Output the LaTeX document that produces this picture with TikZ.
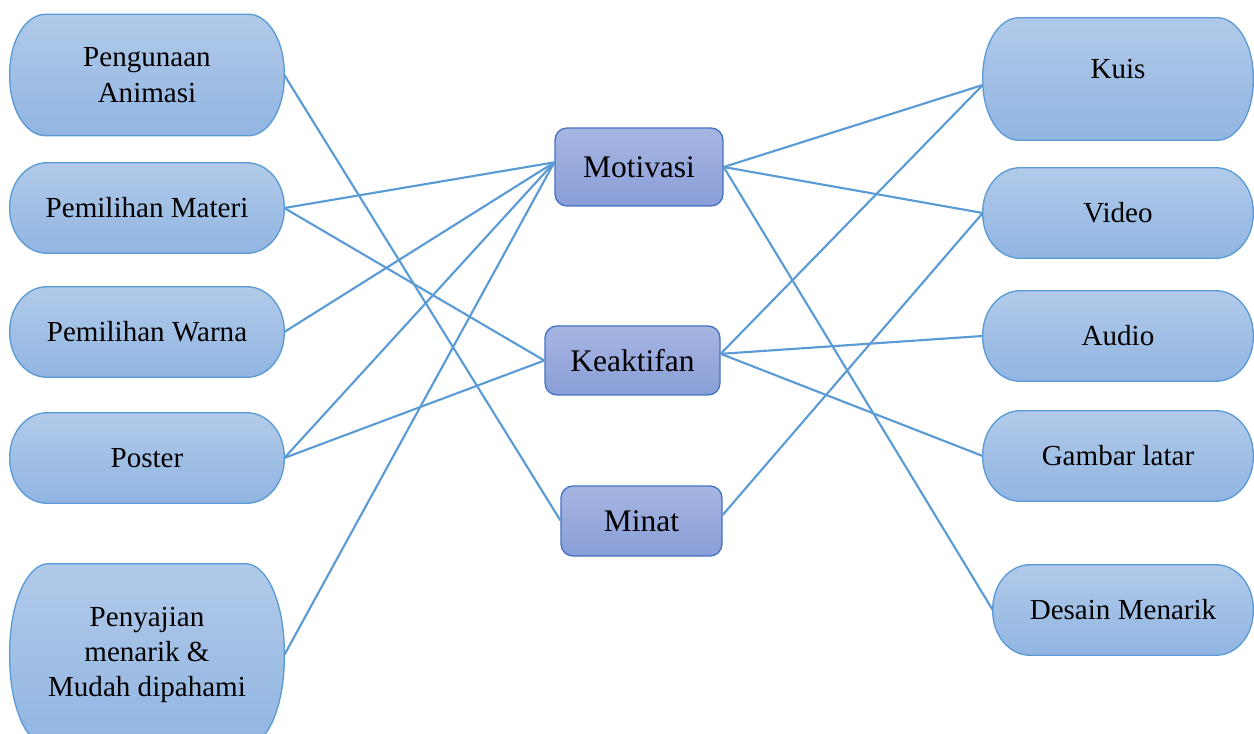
\documentclass[tikz,border=0pt]{standalone}
\usepackage{fontspec}
\setmainfont{Liberation Serif}
\usetikzlibrary{backgrounds}
\definecolor{lt}{HTML}{B1CAE9}
\definecolor{lb}{HTML}{91B5E2}
\definecolor{lbd}{HTML}{5B9BD5}
\definecolor{mt}{HTML}{A7B5E1}
\definecolor{mb}{HTML}{899ED8}
\definecolor{mbd}{HTML}{4472C4}
\definecolor{ln}{HTML}{5B9BD5}
% oval box behind a named node: name, x radius, y radius
\newcommand\ovalshape[3]{%
 \path[ovalfill] ([xshift=#2]#1.north west) -- ([xshift=-#2]#1.north east)
   arc[start angle=90,end angle=0,x radius=#2,y radius=#3]
   -- ([yshift=#3]#1.south east)
   arc[start angle=0,end angle=-90,x radius=#2,y radius=#3]
   -- ([xshift=#2]#1.south west)
   arc[start angle=270,end angle=180,x radius=#2,y radius=#3]
   -- ([yshift=-#3]#1.north west)
   arc[start angle=180,end angle=90,x radius=#2,y radius=#3] -- cycle;}
\begin{document}
\begin{tikzpicture}[x=0.75pt,y=-0.75pt,
 sbox/.style={align=center, font=\fontsize{21.8}{26.5}\selectfont, inner sep=0pt},
 ovalfill/.style={draw=lbd, line width=1pt, top color=lt, bottom color=lb},
 mbox/.style={draw=mbd, line width=1pt, top color=mt, bottom color=mb, rounded corners=9pt, font=\fontsize{23.6}{28}\selectfont, inner sep=0pt},
 lbl/.style={font=\fontsize{21.8}{26.5}\selectfont, align=center},
 link/.style={draw=ln, line width=1.6pt}]
\useasboundingbox (0,0) rectangle (1254,734);
\clip (0,0) rectangle (1254,734);
% left column
\node[sbox, minimum width=205.5pt, minimum height=90.75pt] (anim) at (147,75) {Pengunaan\\Animasi};
\node[sbox, minimum width=205.5pt, minimum height=67.5pt] (mat) at (147,208) {Pemilihan Materi};
\node[sbox, minimum width=205.5pt, minimum height=67.5pt] (war) at (147,332) {Pemilihan Warna};
\node[sbox, minimum width=205.5pt, minimum height=67.5pt] (pos) at (147,458) {Poster};
\node[sbox, minimum width=205.5pt, minimum height=136.5pt] (pen) at (147,655) {Penyajian\\menarik \&\\Mudah dipahami};
% middle column
\node[mbox, minimum width=126pt, minimum height=58.5pt] (mot) at (639,167) {Motivasi};
\node[mbox, minimum width=131.25pt, minimum height=51.75pt] (kea) at (632.5,360.5) {Keaktifan};
\node[mbox, minimum width=120.75pt, minimum height=52.5pt] (min) at (641.5,521) {Minat};
% right column
\node[sbox, minimum width=202.5pt, minimum height=91.5pt, label={[lbl, yshift=7.5pt]center:Kuis}] (kuis) at (1118,79) {};
\node[sbox, minimum width=202.5pt, minimum height=67.5pt] (vid) at (1118,213) {Video};
\node[sbox, minimum width=202.5pt, minimum height=67.5pt] (aud) at (1118,336) {Audio};
\node[sbox, minimum width=202.5pt, minimum height=67.5pt] (gam) at (1118,456) {Gambar latar};
\node[sbox, minimum width=195pt, minimum height=67.5pt] (des) at (1123,610) {Desain Menarik};
\begin{scope}[on background layer]
 \ovalshape{anim}{27pt}{44pt}
 \ovalshape{mat}{28pt}{33pt}
 \ovalshape{war}{28pt}{33pt}
 \ovalshape{pos}{28pt}{33pt}
 \ovalshape{pen}{29pt}{66pt}
 \ovalshape{kuis}{27pt}{44.5pt}
 \ovalshape{vid}{28pt}{33pt}
 \ovalshape{aud}{28pt}{33pt}
 \ovalshape{gam}{28pt}{33pt}
 \ovalshape{des}{28pt}{33pt}
\end{scope}
% connectors
\draw[link] (anim.east) -- ([yshift=0.5pt]min.west);
\draw[link] (mat.east) -- ([yshift=3.5pt]mot.west);
\draw[link] (mat.east) -- (kea.west);
\draw[link] (war.east) -- ([yshift=3.5pt]mot.west);
\draw[link] (pos.east) -- ([yshift=3.5pt]mot.west);
\draw[link] (pos.east) -- (kea.west);
\draw[link] (pen.east) -- ([yshift=3.5pt]mot.west);
\draw[link] (mot.east) -- ([yshift=-4.5pt]kuis.west);
\draw[link] (mot.east) -- (vid.west);
\draw[link] (mot.east) -- (des.west);
\draw[link] ([yshift=5pt]kea.east) -- ([yshift=-4.5pt]kuis.west);
\draw[link] ([yshift=5pt]kea.east) -- (aud.west);
\draw[link] ([yshift=5pt]kea.east) -- (gam.west);
\draw[link] ([yshift=4.5pt]min.east) -- (vid.west);
\end{tikzpicture}
\end{document}
